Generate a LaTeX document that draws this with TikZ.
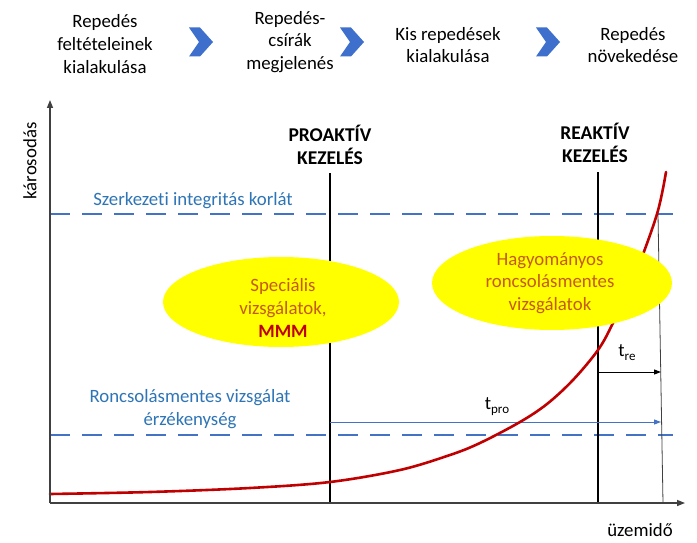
\documentclass[tikz,border=0pt]{standalone}
\usepackage{fontspec}
\setmainfont{Carlito}[Ligatures={NoCommon}]
\usetikzlibrary{shapes.geometric,arrows.meta}
\definecolor{dashblue}{HTML}{4472C4}
\definecolor{txtblue}{HTML}{2E75B6}
\definecolor{chevblue}{HTML}{3E6FCC}
\definecolor{ovaltxt}{HTML}{C55A11}
\definecolor{curvered}{HTML}{C00000}
\definecolor{ovalfill}{HTML}{FFFF00}
\definecolor{axisgray}{HTML}{404040}
\begin{document}
\begin{tikzpicture}[x=1pt,y=-1pt,
  lbl/.style={font=\fontsize{18.8}{22.8}\selectfont, align=center, inner sep=0pt},
  boldlbl/.style={lbl, font=\fontsize{19.5}{22.5}\selectfont\bfseries},
  bluelbl/.style={lbl, text=txtblue},
  ovaltext/.style={lbl, text=ovaltxt},
  oval/.style={ellipse, fill=ovalfill, inner sep=0pt},
  axisline/.style={draw=axisgray, line width=1.4pt, -{Triangle[length=8pt,width=6pt]}},
  vline/.style={draw=black, line width=2pt},
  limitline/.style={draw=dashblue, line width=2.4pt, dash pattern=on 20pt off 12pt},
  timearrow/.style={line width=1pt, -{Triangle[length=7pt,width=5pt]}},
  chevron/.pic={\fill[chevblue] (-12,-14.5) -- (-1,-14.5) -- (12,0) -- (-1,14.5) -- (-12,14.5) -- (-2,0) -- cycle;}
]
\useasboundingbox[fill=white] (0,0) rectangle (697,543);

% header
\node[lbl] (h1) at (105,44) {Repedés\\feltételeinek\\kialakulása};
\node[lbl] (h2) at (290,42) {Repedés-\\csírák\\megjelenés};
\node[lbl] (h3) at (448,45) {Kis repedések\\kialakulása};
\node[lbl] (h4) at (633,45) {Repedés\\növekedése};
\pic at (201,42) {chevron};
\pic at (352,42) {chevron};
\pic at (548,42) {chevron};

% coordinates
\coordinate (O) at (50,503);
\coordinate (ytop) at (50,100);
\coordinate (xend) at (685,503);
\coordinate (proTop) at (330,173);
\coordinate (proBot) at (330,503);
\coordinate (reTop) at (598,172);
\coordinate (reBot) at (598,503);
\coordinate (thinTop) at (658,214);
\coordinate (thinBot) at (663,503);
\coordinate (limL) at (50,214);
\coordinate (limR) at (673,214);
\coordinate (sensL) at (50,435);
\coordinate (sensR) at (673,435);
\coordinate (treS) at (598,372);
\coordinate (treE) at (661,372);
\coordinate (tproS) at (330,422);
\coordinate (tproE) at (661,422);

% dashed limits
\draw[limitline] (limL) -- (limR);
\draw[limitline] (sensL) -- (sensR);

% vertical lines
\draw[vline] (proTop) -- (proBot);
\draw[vline] (reTop) -- (reBot);
\draw[draw=axisgray, line width=0.8pt] (thinTop) -- (thinBot);

% time arrows
\draw[timearrow, draw=black, fill=black] (treS) -- (treE);
\draw[timearrow, draw=dashblue, fill=dashblue] (tproS) -- (tproE);

% damage curve
\draw[curvered, line width=2.6pt, line cap=round] plot[smooth, tension=0.55] coordinates {
 (50,494) (150,492) (250,488) (330,482) (400,470) (450,455) (480,443) (520,422)
 (547,404) (573,380) (598,350) (613,323) (635,275) (657,214) (666,172)};

% axes
\draw[axisline] (O) -- (ytop);
\draw[axisline] (O) -- (xend);

% ovals
\node[oval, minimum width=236pt, minimum height=90pt] (ov1) at (281,302) {};
\node[oval, minimum width=240pt, minimum height=94pt] (ov2) at (552,283) {};
\node[ovaltext] (ov1t) at (283,308) {Speciális\\vizsgálatok,\\\textcolor{curvered}{\bfseries MMM}};
\node[ovaltext] (ov2t) at (550,283) {Hagyományos\\roncsolásmentes\\vizsgálatok};

% labels
\node[boldlbl] (pro) at (330,145) {PROAKTÍV\\KEZELÉS};
\node[boldlbl] (re) at (595,143) {REAKTÍV\\KEZELÉS};
\node[bluelbl] (limtxt) at (193,201) {Szerkezeti integritás korlát};
\node[bluelbl] (senstxt) at (190,409) {Roncsolásmentes vizsgálat\\érzékenység};
\node[lbl, rotate=90] (ylab) at (30,161) {károsodás};
\node[lbl] (xlab) at (640,530) {üzemidő};
\node[lbl] (tpro) at (497,407) {t\raisebox{-0.45ex}{\fontsize{13}{13}\selectfont pro}};
\node[lbl] (tre) at (627,353) {t\raisebox{-0.45ex}{\fontsize{13}{13}\selectfont re}};
\end{tikzpicture}
\end{document}
